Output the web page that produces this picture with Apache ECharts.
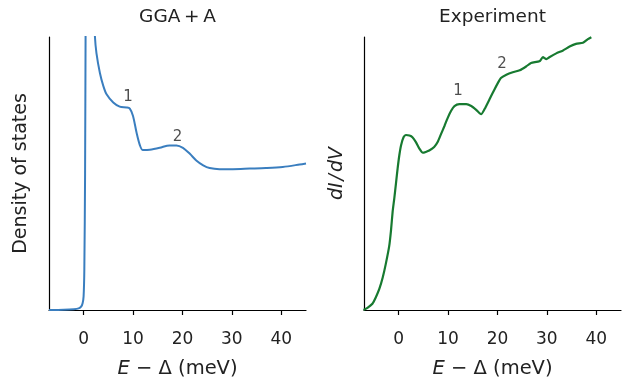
<!DOCTYPE html>
<html>
<head>
<meta charset="utf-8">
<script src="https://cdn.jsdelivr.net/npm/echarts@6/dist/echarts.min.js"></script>
<style>
  html, body { margin: 0; padding: 0; background: #fff; }
  #chart { width: 623px; height: 384px; }
</style>
</head>
<body>
<div id="chart"></div>
<script>
// Calculated density of states (GGA+A), energy in meV relative to the gap
const dosEnergy = [-7, -4, -2, -1, -0.5, -0.2, 0, 0.15, 0.3, 0.4, 0.55, 1.2, 2.0, 2.3, 2.6, 3.3, 4.0, 4.65, 6.0, 7.3, 8.7, 9.35, 10.0, 10.7, 11.4, 12.0, 13.4, 15.4, 17.4, 18.8, 20.1, 21.5, 22.8, 24.2, 25.5, 27.5, 30.2, 33.6, 36.9, 40.3, 43.7, 45];
const dosValue  = [0, 0.001, 0.003, 0.006, 0.012, 0.025, 0.05, 0.15, 0.5, 1.0, 1.5, 2.0, 1.15, 1.0, 0.941, 0.868, 0.82, 0.79, 0.76, 0.745, 0.742, 0.738, 0.711, 0.651, 0.603, 0.586, 0.587, 0.594, 0.603, 0.603, 0.594, 0.572, 0.548, 0.53, 0.52, 0.516, 0.516, 0.518, 0.52, 0.524, 0.533, 0.537];

// Measured tunnelling conductance dI/dV
const expEnergy = [-7.1, -6.3, -5.3, -4.6, -3.9, -3.2, -2.6, -1.9, -1.55, -1.2, -0.87, -0.53, -0.2, 0.14, 0.49, 1.0, 1.5, 2.2, 2.8, 3.5, 4.2, 4.9, 5.5, 6.2, 7.2, 7.9, 8.6, 9.3, 9.9, 10.6, 11.3, 12.3, 13.7, 14.7, 15.7, 16.7, 17.4, 18.4, 19.4, 20.1, 20.7, 21.8, 23.1, 24.5, 25.8, 26.8, 28.5, 29.2, 29.9, 30.5, 31.9, 33.2, 34.6, 35.9, 37.3, 38.3, 39.0];
const expValue  = [0, 0.008, 0.023, 0.047, 0.077, 0.12, 0.168, 0.234, 0.289, 0.361, 0.409, 0.464, 0.518, 0.566, 0.603, 0.633, 0.641, 0.639, 0.633, 0.615, 0.591, 0.576, 0.579, 0.584, 0.597, 0.615, 0.645, 0.675, 0.702, 0.729, 0.747, 0.754, 0.754, 0.747, 0.733, 0.717, 0.736, 0.772, 0.808, 0.832, 0.85, 0.862, 0.871, 0.878, 0.892, 0.905, 0.911, 0.926, 0.919, 0.926, 0.94, 0.95, 0.965, 0.975, 0.979, 0.992, 0.999];

// Feature markers "1" and "2"
const peakLabels = ['1', '2'];
const dosPeaks = [[9.0, 0.779], [19.0, 0.635]];
const expPeaks = [[12.0, 0.802], [20.95, 0.901]];

const xTicks = [0, 10, 20, 30, 40];
const xRange = [-7, 45];

const FONT = 'DejaVu Sans';
const ink = '#222';

function pairs(xs, ys) { return xs.map((x, i) => [x, ys[i]]); }

function xAxisFor(idx) {
  return {
    type: 'value', gridIndex: idx, min: xRange[0], max: xRange[1],
    name: '{i|E} − Δ (meV)', nameLocation: 'middle', nameGap: 49,
    nameTextStyle: { fontFamily: FONT, fontSize: 19.5, color: ink, rich: { i: { fontFamily: FONT, fontSize: 19.5, fontStyle: 'italic', color: ink } } },
    axisLine: { show: true, onZero: false, lineStyle: { color: '#000', width: 1.2 } },
    axisTick: { show: true, inside: false, length: 5, customValues: xTicks, lineStyle: { color: '#000', width: 1.2 } },
    axisLabel: { show: true, customValues: xTicks, margin: 21, fontFamily: FONT, fontSize: 17, color: ink },
    splitLine: { show: false }
  };
}

function yAxisFor(idx, name, italic) {
  return {
    type: 'value', gridIndex: idx, min: 0, max: 1,
    name: name, nameLocation: 'middle', nameGap: italic ? 17 : 18,
    nameTextStyle: { fontFamily: FONT, fontSize: 19, color: ink, fontStyle: italic ? 'italic' : 'normal' },
    axisLine: { show: true, onZero: false, lineStyle: { color: '#000', width: 1.2 } },
    axisTick: { show: false }, axisLabel: { show: false }, splitLine: { show: false }
  };
}

function markers(idx, pts) {
  return {
    type: 'scatter', xAxisIndex: idx, yAxisIndex: idx, symbolSize: 0, silent: true,
    data: pts.map((p, i) => ({ value: p, name: peakLabels[i] })),
    label: { show: true, position: 'inside', formatter: '{b}', fontFamily: FONT, fontSize: 15, color: ink }
  };
}

const chart = echarts.init(document.getElementById('chart'), null, { renderer: 'canvas' });
chart.setOption({
  animation: false,
  backgroundColor: '#fff',
  grid: [
    { left: 49, top: 37, width: 257, height: 276 },
    { left: 364, top: 37, width: 257, height: 276 }
  ],
  graphic: [
    { type: 'text', x: 177.5, y: 17, style: { text: 'GGA\u2009+\u2009A', fontFamily: FONT, fontSize: 18.5, fill: ink, align: 'center', verticalAlign: 'middle' } },
    { type: 'text', x: 492.5, y: 17, style: { text: 'Experiment', fontFamily: FONT, fontSize: 18.5, fill: ink, align: 'center', verticalAlign: 'middle' } }
  ],
  xAxis: [xAxisFor(0), xAxisFor(1)],
  yAxis: [yAxisFor(0, 'Density of states', false), yAxisFor(1, 'dI\u200a/\u200adV', true)],
  series: [
    {
      type: 'line', xAxisIndex: 0, yAxisIndex: 0, data: pairs(dosEnergy, dosValue),
      showSymbol: false, smooth: 0.3, clip: true,
      lineStyle: { color: '#3a7ebf', width: 2 }
    },
    {
      type: 'line', xAxisIndex: 1, yAxisIndex: 1, data: pairs(expEnergy, expValue),
      showSymbol: false, smooth: 0.2, clip: true,
      lineStyle: { color: '#177a30', width: 2.2 }
    },
    markers(0, dosPeaks),
    markers(1, expPeaks)
  ]
});
</script>
</body>
</html>
